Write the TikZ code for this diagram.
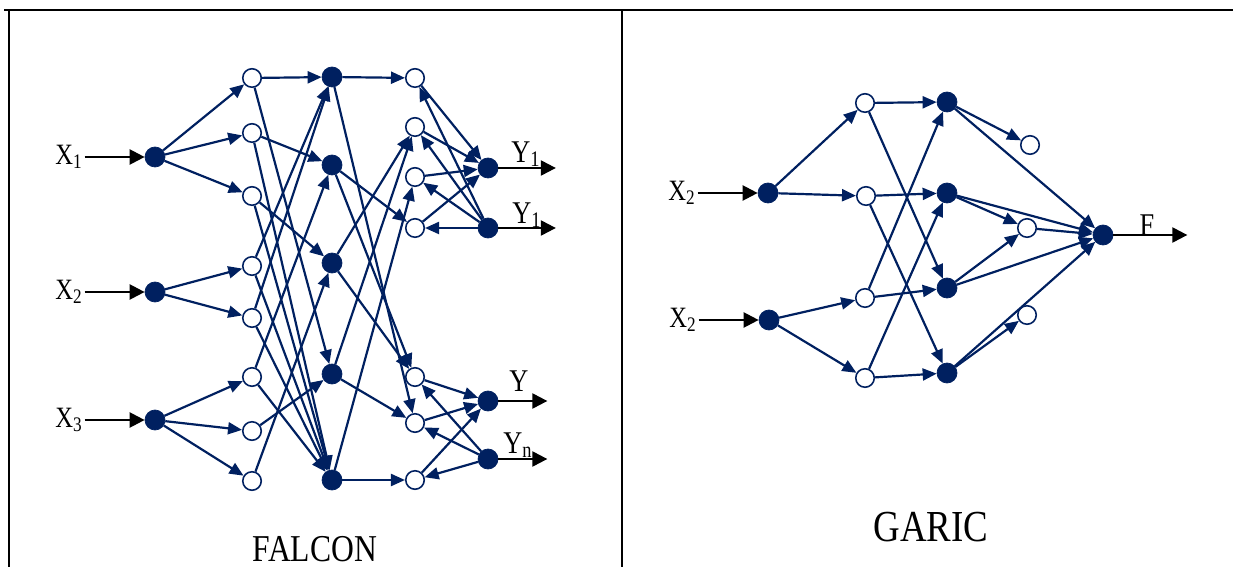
\documentclass[tikz,border=0pt]{standalone}
\usepackage{fontspec}
\setmainfont{Liberation Serif}
\usetikzlibrary{arrows.meta, positioning}
\definecolor{netblue}{RGB}{0, 32, 96}
\newcommand{\tall}[1]{\scalebox{1}[1.2]{#1}}

\begin{document}
\begin{tikzpicture}[
    x=0.02cm, y=-0.02cm,
    full/.style={circle, fill=netblue, draw=netblue, minimum size=0.4cm, inner sep=0pt},
    hollow/.style={circle, fill=white, draw=netblue, line width=0.9pt, minimum size=0.37cm, inner sep=0pt},
    link/.style={-{Triangle[length=0.28cm, width=0.24cm]}, draw=netblue, line width=1.25pt},
    io/.style={-{Triangle[length=0.3cm, width=0.3cm]}, black, line width=1.3pt},
    lbl/.style={inner sep=1pt, font=\fontsize{14}{16}\selectfont}
]
\useasboundingbox (0,0) rectangle (1233,567);

% Frame
\draw[line width=1.2pt] (4,10) -- (1233,10);
\draw[line width=1.2pt] (9,10) -- (9,567);
\draw[line width=1.2pt] (622,10) -- (622,567);

% FALCON: input nodes
\node[full] (x1) at (155,157) {};
\node[full] (x2) at (155,292) {};
\node[full] (x3) at (155,420) {};
\node[lbl, left=1.2cm of x1] (lx1) {\tall{X\textsubscript{1}}};
\node[lbl, left=1.2cm of x2] (lx2) {\tall{X\textsubscript{2}}};
\node[lbl, left=1.2cm of x3] (lx3) {\tall{X\textsubscript{3}}};

% FALCON: input term nodes
\node[hollow] (a1) at (252,78) {};
\node[hollow] (a2) at (252,133) {};
\node[hollow] (a3) at (252,196) {};
\node[hollow] (a4) at (252,266) {};
\node[hollow] (a5) at (252,318) {};
\node[hollow] (a6) at (252,377) {};
\node[hollow] (a7) at (252,431) {};
\node[hollow] (a8) at (252,481) {};

% FALCON: rule nodes
\node[full] (b1) at (332,77) {};
\node[full] (b2) at (332,165) {};
\node[full] (b3) at (332,263) {};
\node[full] (b4) at (332,374) {};
\node[full] (b5) at (332,480) {};

% FALCON: output term nodes
\node[hollow] (c1) at (415,78) {};
\node[hollow] (c2) at (415,127) {};
\node[hollow] (c3) at (415,177) {};
\node[hollow] (c4) at (415,228) {};
\node[hollow] (c5) at (415,377) {};
\node[hollow] (c6) at (415,423) {};
\node[hollow] (c7) at (415,480) {};

% FALCON: output nodes
\node[full] (d1) at (488,168) {};
\node[full] (d2) at (488,228) {};
\node[full] (d3) at (488,401) {};
\node[full] (d4) at (488,459) {};
\coordinate[right=1.15cm of d1] (o1);
\coordinate[right=1.15cm of d2] (o2);
\coordinate[right=0.98cm of d3] (o3);
\coordinate[right=0.98cm of d4] (o4);
\node[lbl, font=\fontsize{15}{17}\selectfont] (ly1) at (526,154) {\tall{Y\textsubscript{1}}};
\node[lbl, font=\fontsize{15}{17}\selectfont] (ly2) at (527,215) {\tall{Y\textsubscript{1}}};
\node[lbl, font=\fontsize{15}{17}\selectfont] (ly3) at (519,381) {\tall{Y}};
\node[lbl, font=\fontsize{15}{17}\selectfont] (ly4) at (518,445) {\tall{Y\textsubscript{n}}};

\node[font=\fontsize{18}{20}\selectfont] (falcon) at (315,549) {\tall{FALCON}};

% FALCON arrows
\draw[io] (lx1) -- (x1);
\draw[io] (lx2) -- (x2);
\draw[io] (lx3) -- (x3);
\draw[link] (x1) -- (a1);
\draw[link] (x1) -- (a2);
\draw[link] (x1) -- (a3);
\draw[link] (x2) -- (a4);
\draw[link] (x2) -- (a5);
\draw[link] (x3) -- (a6);
\draw[link] (x3) -- (a7);
\draw[link] (x3) -- (a8);

\draw[link] (a1) -- (b1);
\draw[link] (a1) -- (b4);
\draw[link] (a2) -- (b2);
\draw[link] (a2) -- (b5);
\draw[link] (a3) -- (b3);
\draw[link] (a3) -- (b5);
\draw[link] (a4) -- (b1);
\draw[link] (a4) -- (b5);
\draw[link] (a5) -- (b1);
\draw[link] (a5) -- (b5);
\draw[link] (a6) -- (b2);
\draw[link] (a6) -- (b5);
\draw[link] (a7) -- (b4);
\draw[link] (a8) -- (b3);

\draw[link] (b1) -- (c1);
\draw[link] (b1) -- (c6);
\draw[link] (b2) -- (c4);
\draw[link] (b2) -- (c5);
\draw[link] (b3) -- (c2);
\draw[link] (b3) -- (c5);
\draw[link] (b4) -- (c2);
\draw[link] (b4) -- (c6);
\draw[link] (b5) -- (c3);
\draw[link] (b5) -- (c7);

\draw[link] (c1) -- (d1);
\draw[link] (c2) -- (d1);
\draw[link] (c3) -- (d1);
\draw[link] (c4) -- (d1);
\draw[link] (d2) -- (c1);
\draw[link] (d2) -- (c2);
\draw[link] (d2) -- (c3);
\draw[link] (d2) -- (c4);
\draw[link] (c5) -- (d3);
\draw[link] (c6) -- (d3);
\draw[link] (c7) -- (d3);
\draw[link] (d4) -- (c5);
\draw[link] (d4) -- (c6);
\draw[link] (d4) -- (c7);

\draw[io] (d1) -- (o1);
\draw[io] (d2) -- (o2);
\draw[io] (d3) -- (o3);
\draw[io] (d4) -- (o4);

% GARIC: input nodes
\node[full] (g1) at (768,193) {};
\node[full] (g2) at (769,320) {};
\node[lbl, left=1.2cm of g1] (lg1) {\tall{X\textsubscript{2}}};
\node[lbl, left=1.2cm of g2] (lg2) {\tall{X\textsubscript{2}}};

% GARIC: fuzzifying nodes
\node[hollow] (h1) at (865,103) {};
\node[hollow] (h2) at (866,196) {};
\node[hollow] (h3) at (865,298) {};
\node[hollow] (h4) at (865,378) {};

% GARIC: rule nodes
\node[full] (r1) at (947,102) {};
\node[full] (r2) at (947,193) {};
\node[full] (r3) at (947,288) {};
\node[full] (r4) at (947,373) {};

% GARIC: consequent and output nodes
\node[hollow] (s1) at (1030,145) {};
\node[hollow] (s2) at (1027,228) {};
\node[hollow] (s3) at (1027,315) {};
\node[full] (f) at (1103,235) {};
\coordinate[right=1.48cm of f] (fo);
\node[lbl, font=\fontsize{15}{17}\selectfont] (lf) at (1147,225) {\tall{F}};

\node[font=\fontsize{21}{24}\selectfont] (garic) at (931,527) {\tall{GARIC}};

% GARIC arrows
\draw[io] (lg1) -- (g1);
\draw[io] (lg2) -- (g2);
\draw[link] (g1) -- (h1);
\draw[link] (g1) -- (h2);
\draw[link] (g2) -- (h3);
\draw[link] (g2) -- (h4);

\draw[link] (h1) -- (r1);
\draw[link] (h1) -- (r3);
\draw[link] (h2) -- (r2);
\draw[link] (h2) -- (r4);
\draw[link] (h3) -- (r1);
\draw[link] (h3) -- (r3);
\draw[link] (h4) -- (r2);
\draw[link] (h4) -- (r4);

\draw[link] (r1) -- (s1);
\draw[link] (r2) -- (s2);
\draw[link] (r3) -- (s2);
\draw[link] (r4) -- (s3);
\draw[link] (r1) -- (f);
\draw[link] (r2) -- (f);
\draw[link] (s2) -- (f);
\draw[link] (r3) -- (f);
\draw[link] (r4) -- (f);

\draw[io] (f) -- (fo);

\end{tikzpicture}
\end{document}
